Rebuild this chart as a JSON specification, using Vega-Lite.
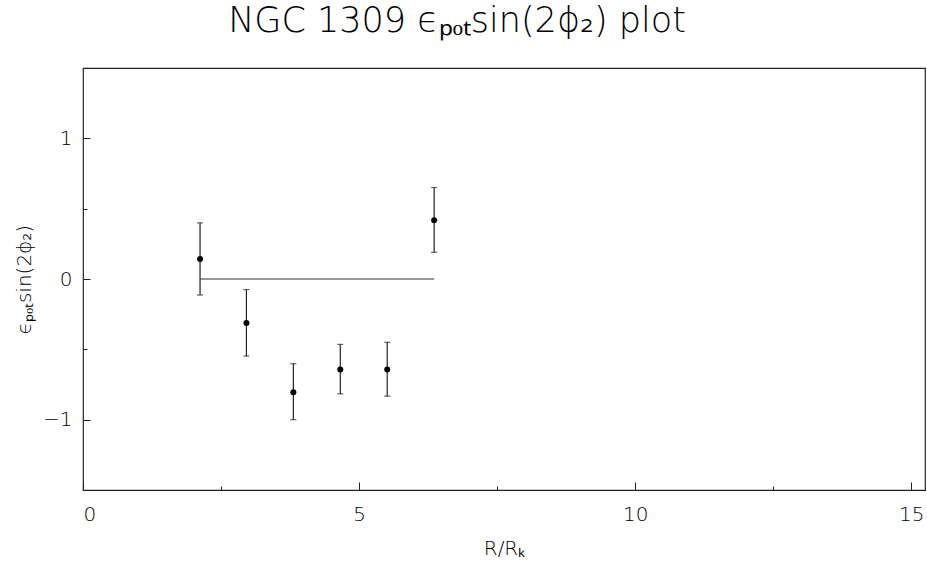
{
  "$schema": "https://vega.github.io/schema/vega-lite/v6.json",
  "width": 842,
  "height": 422,
  "autosize": {"type": "none"},
  "padding": {"left": 83, "top": 68, "right": 2, "bottom": 76},
  "background": "white",
  "title": {
    "text": "NGC 1309 ϵₚₒₜsin(2ϕ₂) plot",
    "anchor": "middle",
    "frame": "group",
    "dx": -47,
    "dy": 28,
    "offset": 22,
    "baseline": "bottom",
    "font": "DejaVu Sans",
    "fontWeight": 200,
    "fontSize": 35,
    "color": "#000000"
  },
  "config": {
    "view": {"stroke": "#222222", "strokeWidth": 1.2},
    "axis": {
      "domain": false,
      "grid": false,
      "labelFont": "DejaVu Sans",
      "labelFontWeight": 200,
      "labelFontSize": 20,
      "labelColor": "#000000",
      "titleFont": "DejaVu Sans",
      "titleFontWeight": 200,
      "titleFontSize": 20,
      "titleColor": "#000000",
      "tickColor": "#222222",
      "tickWidth": 1
    }
  },
  "datasets": {
    "pts": [
      {"r": 2.12, "e": 0.142, "lo": -0.114, "hi": 0.399},
      {"r": 2.96, "e": -0.313, "lo": -0.548, "hi": -0.075},
      {"r": 3.81, "e": -0.805, "lo": -1.0, "hi": -0.602},
      {"r": 4.66, "e": -0.643, "lo": -0.816, "hi": -0.465},
      {"r": 5.51, "e": -0.643, "lo": -0.833, "hi": -0.45},
      {"r": 6.36, "e": 0.418, "lo": 0.19, "hi": 0.65}
    ],
    "base": [
      {"r0": 2.12, "r1": 6.36, "v": 0}
    ]
  },
  "layer": [
    {
      "data": {"name": "base"},
      "mark": {"type": "rule", "color": "#333333", "strokeWidth": 1.2},
      "encoding": {
        "x": {
          "field": "r0", "type": "quantitative",
          "scale": {"domain": [0, 15.25], "nice": false, "zero": false},
          "axis": {
            "title": "R/Rₖ",
            "values": [0, 2.5, 5, 7.5, 10, 12.5, 15],
            "labelExpr": "datum.value % 5 === 0 ? format(datum.value, 'd') : ''",
            "tickSize": {"condition": {"test": "datum.value % 5 === 0", "value": -8}, "value": -4},
            "labelPadding": 22,
            "titlePadding": 14
          }
        },
        "x2": {"field": "r1"},
        "y": {
          "field": "v", "type": "quantitative",
          "scale": {"domain": [-1.5, 1.5], "nice": false, "zero": false},
          "axis": {
            "title": "ϵₚₒₜsin(2ϕ₂)",
            "values": [-1, -0.5, 0, 0.5, 1],
            "labelExpr": "datum.value % 1 === 0 ? (datum.value < 0 ? '−1' : format(datum.value, 'd')) : ''",
            "tickSize": {"condition": {"test": "datum.value % 1 === 0", "value": -7}, "value": -4},
            "labelPadding": 18,
            "titlePadding": 8
          }
        }
      }
    },
    {
      "data": {"name": "pts"},
      "mark": {"type": "rule", "color": "#222222", "strokeWidth": 1.2},
      "encoding": {
        "x": {"field": "r", "type": "quantitative"},
        "y": {"field": "lo", "type": "quantitative"},
        "y2": {"field": "hi"}
      }
    },
    {
      "data": {"name": "pts"},
      "mark": {"type": "tick", "orient": "horizontal", "color": "#222222", "size": 6, "thickness": 1.2},
      "encoding": {
        "x": {"field": "r", "type": "quantitative"},
        "y": {"field": "lo", "type": "quantitative"}
      }
    },
    {
      "data": {"name": "pts"},
      "mark": {"type": "tick", "orient": "horizontal", "color": "#222222", "size": 6, "thickness": 1.2},
      "encoding": {
        "x": {"field": "r", "type": "quantitative"},
        "y": {"field": "hi", "type": "quantitative"}
      }
    },
    {
      "data": {"name": "pts"},
      "mark": {"type": "point", "filled": true, "color": "#000000", "size": 36, "opacity": 1},
      "encoding": {
        "x": {"field": "r", "type": "quantitative"},
        "y": {"field": "e", "type": "quantitative"}
      }
    }
  ]
}
